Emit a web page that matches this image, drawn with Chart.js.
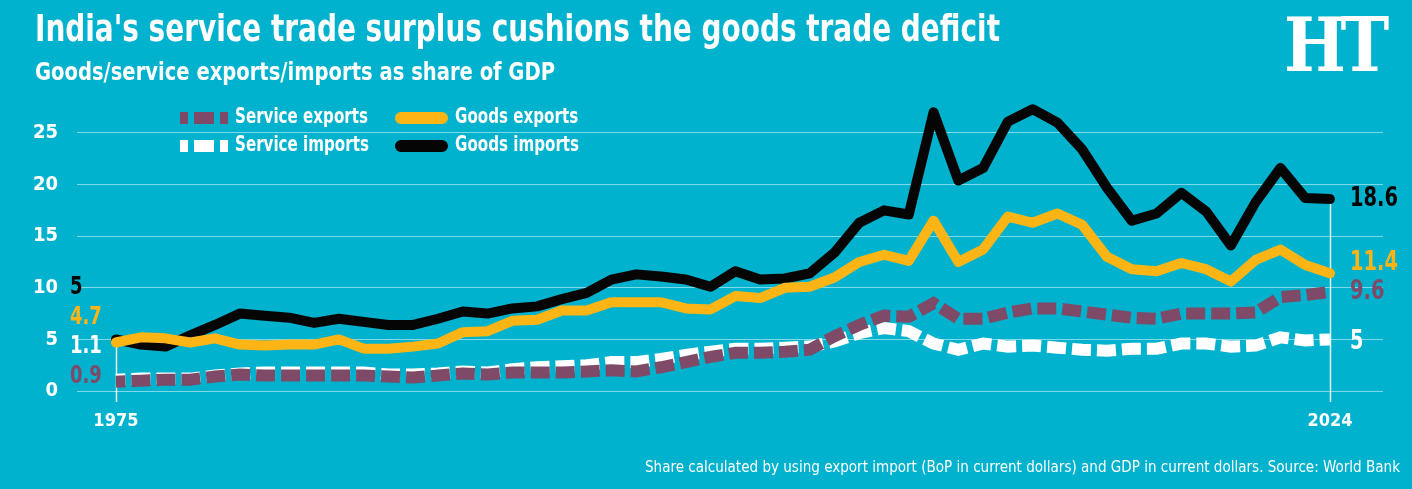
<!DOCTYPE html>
<html>
<head>
<meta charset="utf-8">
<script src="https://cdn.jsdelivr.net/npm/chart.js@4.4.1/dist/chart.umd.min.js"></script>
<style>
  html, body { margin: 0; padding: 0; }
  body {
    width: 1412px; height: 489px; overflow: hidden; position: relative;
    background: #00b2cd; color: #fff;
    font-family: 'DejaVu Sans Condensed', 'Liberation Sans Narrow', Roboto, sans-serif;
  }
  canvas { position: absolute; left: 0; top: 0; }
  .txt { position: absolute; white-space: nowrap; line-height: 1; transform-origin: left top; }
  #title { left: 35px; top: 9px; font-size: 38px; font-weight: bold; }
  #subtitle { left: 35px; top: 59px; font-size: 25px; font-weight: bold; }
  #source { left: 645px; top: 459px; font-size: 16px; }
  #logo { left: 1284px; top: 8px; font-family: 'DejaVu Serif', serif; font-size: 74px; font-weight: bold; letter-spacing: -6px; }
</style>
</head>
<body>
<canvas id="chart" width="1412" height="489"></canvas>
<div class="txt" id="title">India's service trade surplus cushions the goods trade deficit</div>
<div class="txt" id="subtitle">Goods/service exports/imports as share of GDP</div>
<div class="txt" id="logo">HT</div>
<div class="txt" id="source">Share calculated by using export import (BoP in current dollars) and GDP in current dollars. Source: World Bank</div>
<script>
const years = [
  1975, 1976, 1977, 1978, 1979, 1980, 1981, 1982, 1983, 1984,
  1985, 1986, 1987, 1988, 1989, 1990, 1991, 1992, 1993, 1994,
  1995, 1996, 1997, 1998, 1999, 2000, 2001, 2002, 2003, 2004,
  2005, 2006, 2007, 2008, 2009, 2010, 2011, 2012, 2013, 2014,
  2015, 2016, 2017, 2018, 2019, 2020, 2021, 2022, 2023, 2024
];
const goodsExports = [
  4.7, 5.2, 5.1, 4.7, 5.1, 4.5, 4.4, 4.5, 4.5, 5.0,
  4.1, 4.1, 4.3, 4.6, 5.7, 5.8, 6.8, 6.9, 7.8, 7.8,
  8.6, 8.6, 8.6, 8.0, 7.9, 9.2, 9.0, 10.0, 10.1, 11.0,
  12.5, 13.2, 12.6, 16.5, 12.5, 13.7, 16.9, 16.3, 17.2, 16.1,
  13.0, 11.8, 11.6, 12.4, 11.8, 10.6, 12.7, 13.7, 12.2, 11.4
];
const goodsImports = [
  5.0, 4.5, 4.3, 5.4, 6.4, 7.5, 7.3, 7.1, 6.6, 7.0,
  6.7, 6.4, 6.4, 7.0, 7.7, 7.5, 8.0, 8.2, 8.9, 9.5,
  10.8, 11.3, 11.1, 10.8, 10.1, 11.6, 10.8, 10.9, 11.4, 13.4,
  16.3, 17.5, 17.1, 27.0, 20.4, 21.6, 26.1, 27.3, 26.0, 23.4,
  19.7, 16.5, 17.2, 19.2, 17.4, 14.1, 18.3, 21.6, 18.7, 18.6
];
const serviceExports = [
  0.9, 1.0, 1.1, 1.1, 1.4, 1.6, 1.5, 1.5, 1.5, 1.5,
  1.5, 1.4, 1.3, 1.5, 1.7, 1.6, 1.8, 1.8, 1.8, 1.9,
  2.0, 1.9, 2.3, 2.8, 3.3, 3.7, 3.7, 3.8, 4.0, 5.3,
  6.4, 7.3, 7.2, 8.5, 7.0, 7.0, 7.6, 8.0, 8.0, 7.7,
  7.4, 7.1, 7.0, 7.5, 7.5, 7.5, 7.6, 9.1, 9.3, 9.6
];
const serviceImports = [
  1.1, 1.2, 1.2, 1.2, 1.5, 1.7, 1.8, 1.8, 1.8, 1.8,
  1.8, 1.6, 1.6, 1.7, 1.9, 1.8, 2.1, 2.3, 2.4, 2.5,
  2.8, 2.8, 3.1, 3.5, 3.8, 4.1, 4.1, 4.2, 4.3, 4.8,
  5.6, 6.1, 5.8, 4.6, 4.0, 4.6, 4.3, 4.4, 4.2, 4.0,
  3.9, 4.1, 4.1, 4.6, 4.6, 4.3, 4.4, 5.2, 4.9, 5.0
];
const yTicks = [0, 5, 10, 15, 20, 25];
const xTicks = [1975, 2024];

const FONT = "'DejaVu Sans Condensed', 'Liberation Sans Narrow', Roboto, sans-serif";
const SQUEEZE = 0.8;
const YELLOW = '#fdb515';
const PURPLE = '#7e4a68';
const BLACK = '#050505';
const WHITE = '#ffffff';

// stretch the html texts to the widths of the original
function fitWidth(id, width, origin) {
  const el = document.getElementById(id);
  const w = el.getBoundingClientRect().width;
  el.style.transformOrigin = origin || 'left top';
  el.style.transform = `scaleX(${width / w})`;
}
fitWidth('title', 965);
fitWidth('subtitle', 520);
fitWidth('source', 755);
fitWidth('logo', 100);

function squeezedText(ctx, text, x, y, size, color, align) {
  ctx.save();
  ctx.font = `bold ${size}px ${FONT}`;
  ctx.fillStyle = color;
  ctx.textBaseline = 'middle';
  ctx.textAlign = align || 'left';
  ctx.translate(x, y);
  ctx.scale(SQUEEZE, 1);
  ctx.fillText(text, 0, 0);
  ctx.restore();
}

const toPoints = arr => arr.map((v, i) => ({ x: years[i], y: v }));

const seriesInfo = [
  { label: 'Goods exports', data: goodsExports, color: YELLOW, dashed: false, endDy: -10 },
  { label: 'Goods imports', data: goodsImports, color: BLACK, dashed: false, endDy: 0 },
  { label: 'Service exports', data: serviceExports, color: PURPLE, dashed: true, endDy: 0 },
  { label: 'Service imports', data: serviceImports, color: WHITE, dashed: true, endDy: 3 }
];

const datasets = seriesInfo.map(s => ({
  label: s.label,
  data: toPoints(s.data),
  borderColor: s.color,
  borderWidth: s.dashed ? 12 : 10,
  borderDash: s.dashed ? [19, 6] : [],
  borderDashOffset: s.dashed ? 9.5 : 0,
  borderCapStyle: s.dashed ? 'butt' : 'round',
  borderJoinStyle: s.dashed ? 'miter' : 'round',
  pointRadius: 0,
  tension: 0,
  fill: false,
  clip: false
}));

const decorations = {
  id: 'decorations',
  beforeDatasetsDraw(chart) {
    const { ctx, scales: { x, y } } = chart;
    [0, years.length - 1].forEach(i => {
      const top = Math.max(...seriesInfo.map(s => s.data[i]));
      const px = Math.round(x.getPixelForValue(years[i])) + 0.5;
      ctx.save();
      ctx.strokeStyle = 'rgba(255,255,255,0.9)';
      ctx.lineWidth = 1.5;
      ctx.beginPath();
      ctx.moveTo(px, y.getPixelForValue(top));
      ctx.lineTo(px, y.bottom + 11);
      ctx.stroke();
      ctx.restore();
    });
  },
  afterDatasetsDraw(chart) {
    const { ctx, scales: { x, y } } = chart;
    const last = years.length - 1;

    // start values, stacked left of the first year
    const startOrder = [1, 0, 3, 2];
    const x0 = x.getPixelForValue(years[0]) - 46;
    startOrder.forEach((idx, k) => {
      const s = seriesInfo[idx];
      squeezedText(ctx, String(s.data[0]), x0, y.getPixelForValue(10) + k * 29.5, 25, s.color);
    });

    // end values
    const x1 = x.getPixelForValue(years[last]) + 20;
    seriesInfo.forEach(s => {
      squeezedText(ctx, String(s.data[last]), x1, y.getPixelForValue(s.data[last]) + s.endDy, 27, s.color);
    });

    // legend, two columns
    const legend = [
      { idx: 2, lx: 180, ly: 118 }, { idx: 0, lx: 395, ly: 118 },
      { idx: 3, lx: 180, ly: 146 }, { idx: 1, lx: 395, ly: 146 }
    ];
    legend.forEach(item => {
      const s = seriesInfo[item.idx];
      ctx.save();
      ctx.strokeStyle = s.color;
      if (s.dashed) {
        ctx.lineWidth = 12;
        ctx.lineCap = 'butt';
        ctx.setLineDash([8, 6, 20, 6, 8, 100]);
        ctx.beginPath();
        ctx.moveTo(item.lx, item.ly);
        ctx.lineTo(item.lx + 48, item.ly);
        ctx.stroke();
      } else {
        ctx.lineWidth = 12;
        ctx.lineCap = 'round';
        ctx.beginPath();
        ctx.moveTo(item.lx + 6, item.ly);
        ctx.lineTo(item.lx + 47, item.ly);
        ctx.stroke();
      }
      ctx.restore();
      squeezedText(ctx, s.label, item.lx + (s.dashed ? 55 : 60), item.ly, 21, WHITE);
    });
  }
};

new Chart(document.getElementById('chart'), {
  type: 'line',
  data: { datasets },
  options: {
    responsive: false,
    animation: false,
    devicePixelRatio: 1,
    layout: { padding: { left: 0, right: 29, top: 102, bottom: 58 } },
    plugins: { legend: { display: false }, tooltip: { enabled: false } },
    scales: {
      x: {
        type: 'linear',
        min: 1973.43,
        max: 2026.14,
        afterBuildTicks: scale => { scale.ticks = xTicks.map(v => ({ value: v })); },
        afterFit: scale => { scale.height = 40; },
        grid: { display: false },
        border: { display: false },
        ticks: {
          color: WHITE,
          padding: 12,
          maxRotation: 0,
          font: { family: FONT, size: 18, weight: 'bold' },
          callback: v => String(v)
        }
      },
      y: {
        min: 0,
        max: 28,
        afterBuildTicks: scale => { scale.ticks = yTicks.map(v => ({ value: v })); },
        afterFit: scale => { scale.width = 77; },
        grid: { color: 'rgba(255,255,255,0.5)', lineWidth: 1, drawTicks: false },
        border: { display: false },
        ticks: {
          color: WHITE,
          padding: 19,
          font: { family: FONT, size: 20, weight: 'bold' }
        }
      }
    }
  },
  plugins: [decorations]
});
</script>
</body>
</html>
